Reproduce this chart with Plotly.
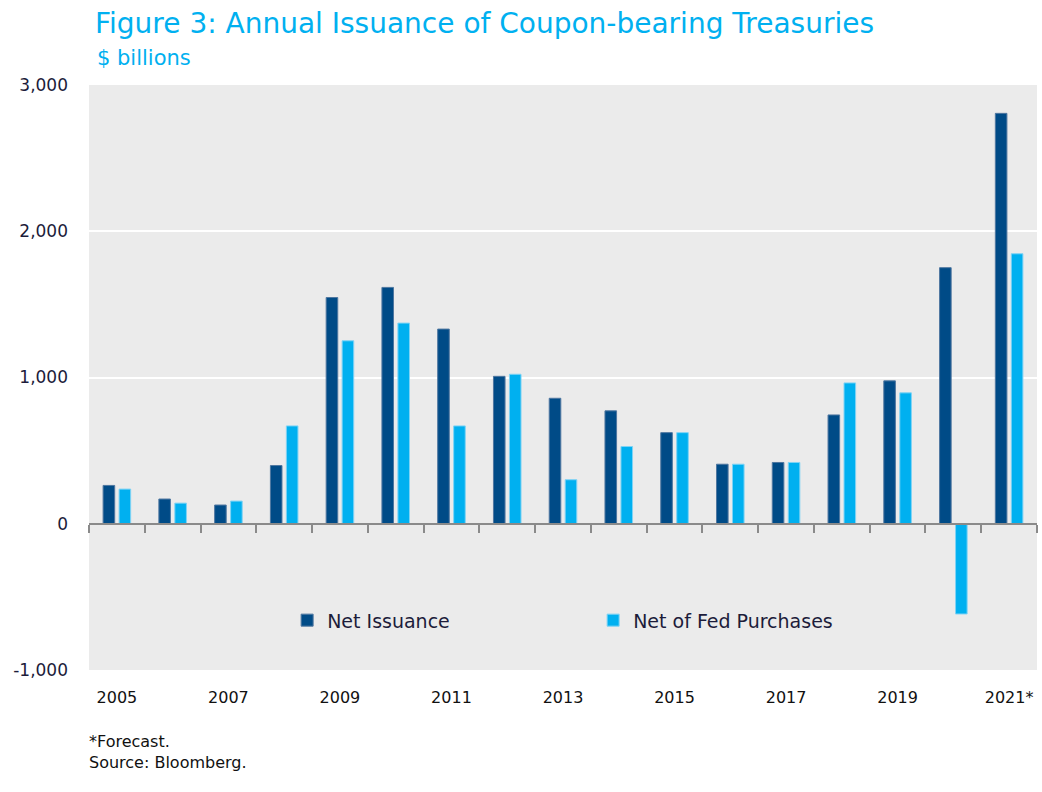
import plotly.graph_objects as go

years = ["2005", "2006", "2007", "2008", "2009", "2010", "2011", "2012", "2013",
         "2014", "2015", "2016", "2017", "2018", "2019", "2020", "2021*"]
net_issuance = [262, 169, 128, 398, 1547, 1616, 1331, 1008, 858,
                772, 623, 407, 419, 744, 977, 1751, 2806]
net_of_fed = [237, 141, 155, 669, 1251, 1372, 669, 1022, 301,
              528, 623, 407, 419, 963, 895, -617, 1846]
tick_labels = [y if i % 2 == 0 else "" for i, y in enumerate(years)]
y_ticks = [-1000, 0, 1000, 2000, 3000]
y_tick_labels = ["-1,000", "0", "1,000", "2,000", "3,000"]

DARK = "#004b87"
LIGHT = "#00b0f0"
TEXT = "#1c1c3a"
FONT = "DejaVu Sans, Verdana, sans-serif"

fig = go.Figure()
fig.add_trace(go.Bar(x=years, y=net_issuance, name="Net Issuance",
                     marker=dict(color=DARK, line=dict(color="#4f77a0", width=1))))
fig.add_trace(go.Bar(x=years, y=net_of_fed, name="Net of Fed Purchases",
                     marker=dict(color=LIGHT, line=dict(color="#7fd3f5", width=1))))
# invisible trace that carries the tick-mark axis along the zero line
fig.add_trace(go.Scatter(x=years, y=[0] * len(years), xaxis="x2", mode="markers",
                         marker=dict(opacity=0), showlegend=False, hoverinfo="skip"))

fig.update_layout(
    width=1042, height=792,
    margin=dict(l=89, r=5, t=85, b=122),
    paper_bgcolor="white", plot_bgcolor="#ebebeb",
    font=dict(family=FONT, color=TEXT, size=16),
    barmode="group", bargap=0.427, bargroupgap=0.275,
    title=dict(text="Figure 3: Annual Issuance of Coupon-bearing Treasuries",
               x=95 / 1042, xanchor="left", xref="container",
               y=1 - 23 / 792, yanchor="middle", yref="container",
               font=dict(family=FONT, size=28, color=LIGHT)),
    xaxis=dict(type="category", range=[-0.5, 16.5], tickmode="array",
               tickvals=years, ticktext=tick_labels, ticks="", showgrid=False,
               showline=False, ticklabelstandoff=16, ticklabeloverflow="allow",
               automargin=False, tickfont=dict(size=16, color="#111111")),
    xaxis2=dict(type="category", overlaying="x", anchor="free", position=0.25,
                range=[-0.5, 16.5], tickson="boundaries", ticks="outside",
                ticklen=8, tickwidth=2, tickcolor="#8a8a8a", showline=True,
                linecolor="#8a8a8a", linewidth=2, showticklabels=False,
                showgrid=False, automargin=False),
    yaxis=dict(range=[-1000, 3000], tickmode="array", tickvals=y_ticks,
               ticktext=y_tick_labels, showgrid=True, gridcolor="white", gridwidth=2,
               zeroline=False, ticks="", ticklabelstandoff=20, automargin=False,
               tickfont=dict(size=17, color=TEXT)),
    legend=dict(orientation="h", x=0.209, xanchor="left", y=0.085, yanchor="middle",
                bgcolor="rgba(0,0,0,0)", entrywidth=261, entrywidthmode="pixels",
                font=dict(size=19, color=TEXT), itemwidth=30),
    annotations=[
        dict(text="$ billions", xref="paper", yref="paper", x=0.0063, y=1 + 27 / 585,
             xanchor="left", yanchor="middle", showarrow=False,
             font=dict(family=FONT, size=21, color=LIGHT)),
        dict(text="*Forecast.<br>Source: Bloomberg.", xref="paper", yref="paper",
             x=-0.002, y=-(741 - 670 - 11) / 585, xanchor="left", yanchor="top",
             align="left", showarrow=False, font=dict(size=16, color="#111111")),
    ],
)

fig.write_html("out.html", config={"displayModeBar": False},
               post_script="document.body.style.margin='0';")
